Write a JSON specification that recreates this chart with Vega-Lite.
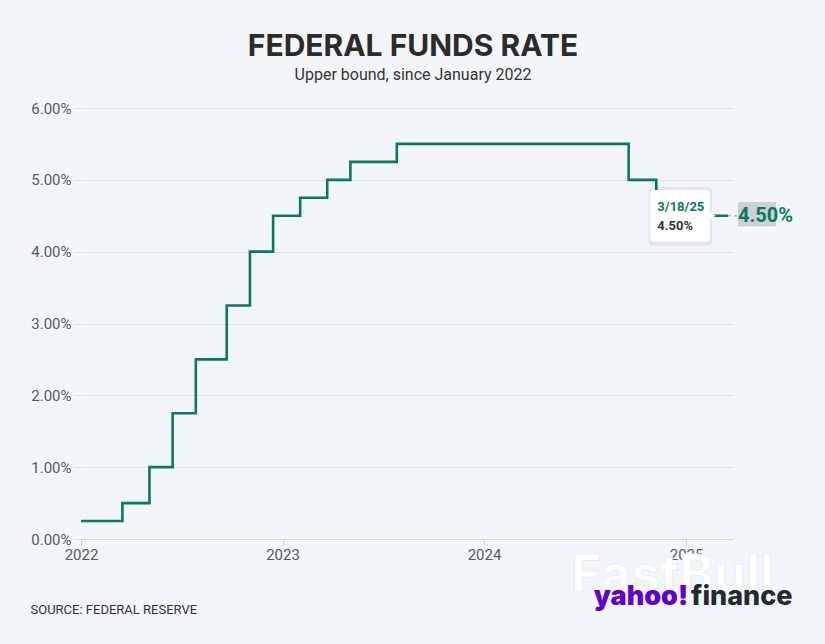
{
  "$schema": "https://vega.github.io/schema/vega-lite/v6.json",
  "autosize": {"type": "none"},
  "width": 652,
  "height": 431,
  "padding": {"left": 81, "top": 108, "right": 92, "bottom": 105},
  "background": "#f3f6f9",
  "title": {
    "text": "FEDERAL FUNDS RATE",
    "subtitle": "Upper bound, since January 2022",
    "anchor": "middle",
    "dx": 6,
    "offset": 18,
    "font": "Inter",
    "fontSize": 30,
    "fontWeight": "bold",
    "color": "#2b2b2b",
    "subtitleFont": "Roboto",
    "subtitleFontSize": 16,
    "subtitleColor": "#333333",
    "subtitlePadding": 5
  },
  "config": {
    "view": {"stroke": null},
    "font": "Roboto"
  },
  "layer": [
    {
      "data": {
        "values": [
          {"date": "2022-01-01", "rate": 0.25},
          {"date": "2022-03-17", "rate": 0.5},
          {"date": "2022-05-05", "rate": 1.0},
          {"date": "2022-06-16", "rate": 1.75},
          {"date": "2022-07-28", "rate": 2.5},
          {"date": "2022-09-22", "rate": 3.25},
          {"date": "2022-11-03", "rate": 4.0},
          {"date": "2022-12-15", "rate": 4.5},
          {"date": "2023-02-02", "rate": 4.75},
          {"date": "2023-03-23", "rate": 5.0},
          {"date": "2023-05-04", "rate": 5.25},
          {"date": "2023-07-27", "rate": 5.5},
          {"date": "2024-09-19", "rate": 5.0},
          {"date": "2024-11-08", "rate": 4.75},
          {"date": "2024-12-19", "rate": 4.5},
          {"date": "2025-03-18", "rate": 4.5}
        ]
      },
      "mark": {"type": "line", "interpolate": "step-after", "color": "#0a7a5e", "strokeWidth": 2.6},
      "encoding": {
        "x": {
          "field": "date",
          "type": "temporal",
          "scale": {"domain": [{"year": 2022, "month": 1, "date": 1}, {"year": 2025, "month": 3, "date": 27}], "nice": false},
          "axis": {
            "format": "%Y",
            "tickCount": {"interval": "year", "step": 1},
            "labelFlush": false,
            "grid": false,
            "domainColor": "#d3d7db",
            "tickColor": "#d3d7db",
            "tickSize": 6,
            "labelFont": "Roboto",
            "labelFontSize": 15,
            "labelColor": "#555a5f",
            "labelPadding": 2,
            "title": "SOURCE: FEDERAL RESERVE",
            "titleFont": "Roboto",
            "titleFontSize": 13,
            "titleFontWeight": "normal",
            "titleColor": "#333333",
            "titleAnchor": "start",
            "titleAlign": "left",
            "titleBaseline": "alphabetic",
            "titleX": -51,
            "titleY": 74
          }
        },
        "y": {
          "field": "rate",
          "type": "quantitative",
          "scale": {"domain": [0, 6], "nice": false},
          "axis": {
            "values": [0, 1, 2, 3, 4, 5, 6],
            "labelExpr": "format(datum.value, '.2f') + '%'",
            "domain": false,
            "gridColor": "#dfe3e7",
            "tickColor": "#dfe3e7",
            "tickSize": 8,
            "labelFont": "Roboto",
            "labelFontSize": 15,
            "labelColor": "#555a5f",
            "labelPadding": 2,
            "title": null
          }
        }
      }
    },
    {
      "data": {"values": [{"t": "FastBull"}]},
      "mark": {"type": "text", "font": "Inter", "fontSize": 52, "fontWeight": "bold", "fill": "#ffffff", "stroke": "#e9edf1", "strokeWidth": 1, "align": "right", "baseline": "middle"},
      "encoding": {
        "text": {"field": "t"},
        "x": {"datum": {"year": 2025, "month": 6, "date": 10}},
        "y": {"datum": -0.52}
      }
    },
    {
      "data": {"values": [{"t": "a"}]},
      "mark": {"type": "rule", "color": "#aab0b6", "strokeDash": [3, 3], "strokeWidth": 1.5},
      "encoding": {
        "x": {"datum": {"year": 2025, "month": 3, "date": 18}},
        "x2": {"datum": {"year": 2025, "month": 4, "date": 3}},
        "y": {"datum": 4.5}
      }
    },
    {
      "data": {"values": [{"t": "a"}]},
      "mark": {"type": "rect", "fill": "#000000", "opacity": 0.06, "cornerRadius": 4},
      "encoding": {
        "x": {"datum": {"year": 2024, "month": 10, "date": 25}},
        "x2": {"datum": {"year": 2025, "month": 2, "date": 17}},
        "y": {"datum": 4.9},
        "y2": {"datum": 4.08}
      }
    },
    {
      "data": {"values": [{"t": "a"}]},
      "mark": {"type": "rect", "fill": "#ffffff", "cornerRadius": 3},
      "encoding": {
        "x": {"datum": {"year": 2024, "month": 10, "date": 28}},
        "x2": {"datum": {"year": 2025, "month": 2, "date": 13}},
        "y": {"datum": 4.86},
        "y2": {"datum": 4.14}
      }
    },
    {
      "data": {"values": [{"t": "a"}]},
      "mark": {"type": "point", "shape": "triangle-right", "filled": true, "fill": "#ffffff", "opacity": 1, "size": 70},
      "encoding": {
        "x": {"datum": {"year": 2025, "month": 2, "date": 17}},
        "y": {"datum": 4.5}
      }
    },
    {
      "data": {"values": [{"t": "3/18/25"}]},
      "mark": {"type": "text", "font": "Roboto", "fontSize": 13, "fontWeight": "bold", "color": "#0a7a5e", "align": "left", "baseline": "middle"},
      "encoding": {
        "text": {"field": "t"},
        "x": {"datum": {"year": 2024, "month": 11, "date": 10}},
        "y": {"datum": 4.62}
      }
    },
    {
      "data": {"values": [{"t": "4.50%"}]},
      "mark": {"type": "text", "font": "Roboto", "fontSize": 13, "fontWeight": "bold", "color": "#333333", "align": "left", "baseline": "middle"},
      "encoding": {
        "text": {"field": "t"},
        "x": {"datum": {"year": 2024, "month": 11, "date": 10}},
        "y": {"datum": 4.36}
      }
    },
    {
      "data": {"values": [{"t": "a"}]},
      "mark": {"type": "rect", "fill": "#c9cccf", "opacity": 0.9},
      "encoding": {
        "x": {"datum": {"year": 2025, "month": 4, "date": 5}},
        "x2": {"datum": {"year": 2025, "month": 6, "date": 13}},
        "y": {"datum": 4.69},
        "y2": {"datum": 4.35}
      }
    },
    {
      "data": {"values": [{"t": "4.50%"}]},
      "mark": {"type": "text", "font": "Roboto", "fontSize": 20, "fontWeight": "bold", "color": "#0a7a5e", "align": "left", "baseline": "middle"},
      "encoding": {
        "text": {"field": "t"},
        "x": {"datum": {"year": 2025, "month": 4, "date": 5}},
        "y": {"datum": 4.5}
      }
    },
    {
      "data": {"values": [{"t": "yahoo!"}]},
      "mark": {"type": "text", "font": "Inter", "fontSize": 27, "fontWeight": 900, "color": "#6001d2", "align": "right", "baseline": "alphabetic"},
      "encoding": {
        "text": {"field": "t"},
        "x": {"datum": {"year": 2025, "month": 1, "date": 5}},
        "y": {"datum": -0.92}
      }
    },
    {
      "data": {"values": [{"t": "finance"}]},
      "mark": {"type": "text", "font": "Inter", "fontSize": 27, "fontWeight": 800, "color": "#232a31", "align": "left", "baseline": "alphabetic"},
      "encoding": {
        "text": {"field": "t"},
        "x": {"datum": {"year": 2025, "month": 1, "date": 10}},
        "y": {"datum": -0.92}
      }
    }
  ]
}
